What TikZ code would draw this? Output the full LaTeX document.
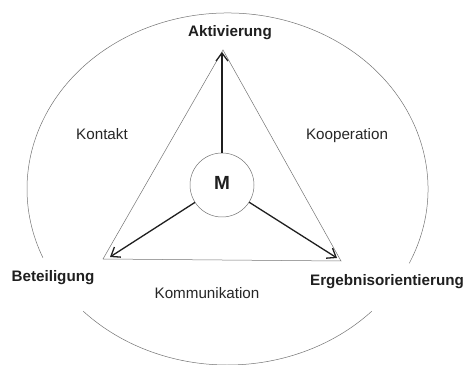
\documentclass[tikz,border=0pt]{standalone}
\usepackage{fontspec}
\setmainfont{Liberation Sans}
\usetikzlibrary{arrows.meta}
\begin{document}
\begin{tikzpicture}[x=1pt,y=1pt,
  outline/.style={draw=black!55,line width=0.5pt},
  spoke/.style={draw=black!88,line width=1.3pt,-{Straight Barb[length=8pt,width=12pt,line width=1.3pt]}},
  headlabel/.style={font=\fontsize{15.2}{17}\selectfont\bfseries,text=black!88},
  arealabel/.style={font=\fontsize{15.2}{17}\selectfont,text=black!85}]
\useasboundingbox (0,0) rectangle (467,365);
% outer ellipse (with gaps beside the lower corners)
\draw[outline] (227.5,176) ++(-25:200.5 and 176) arc[start angle=-25,end angle=203,x radius=200.5,y radius=176];
\draw[outline] (227.5,176) ++(224:200.5 and 176) arc[start angle=224,end angle=316,x radius=200.5,y radius=176];
% triangle
\coordinate (apex) at (223,315);
\coordinate (bl) at (103,106);
\coordinate (br) at (341,104);
\draw[outline] (apex) -- (bl) -- (br) -- cycle;
% centre
\node[circle,outline,minimum size=64pt,inner sep=0pt] (M) at (222,180) {};
\node[font=\fontsize{19}{20}\selectfont\bfseries,text=black!88] (Mlab) at (222,182) {M};
% arrow tips
\coordinate (tA) at (222,313);
\coordinate (tBL) at (110,108);
\coordinate (tBR) at (337,107);
\draw[spoke] (M) -- (tA);
\draw[spoke] (M) -- (tBL);
\draw[spoke] (M) -- (tBR);
% labels
\node[headlabel] (akt) at (230,332) {Aktivierung};
\node[headlabel] (bet) at (53,87) {Beteiligung};
\node[headlabel] (erg) at (387,83) {Ergebnisorientierung};
\node[arealabel] (kon) at (102,231) {Kontakt};
\node[arealabel] (koop) at (347,229) {Kooperation};
\node[arealabel] (komm) at (207,72) {Kommunikation};
\end{tikzpicture}
\end{document}
